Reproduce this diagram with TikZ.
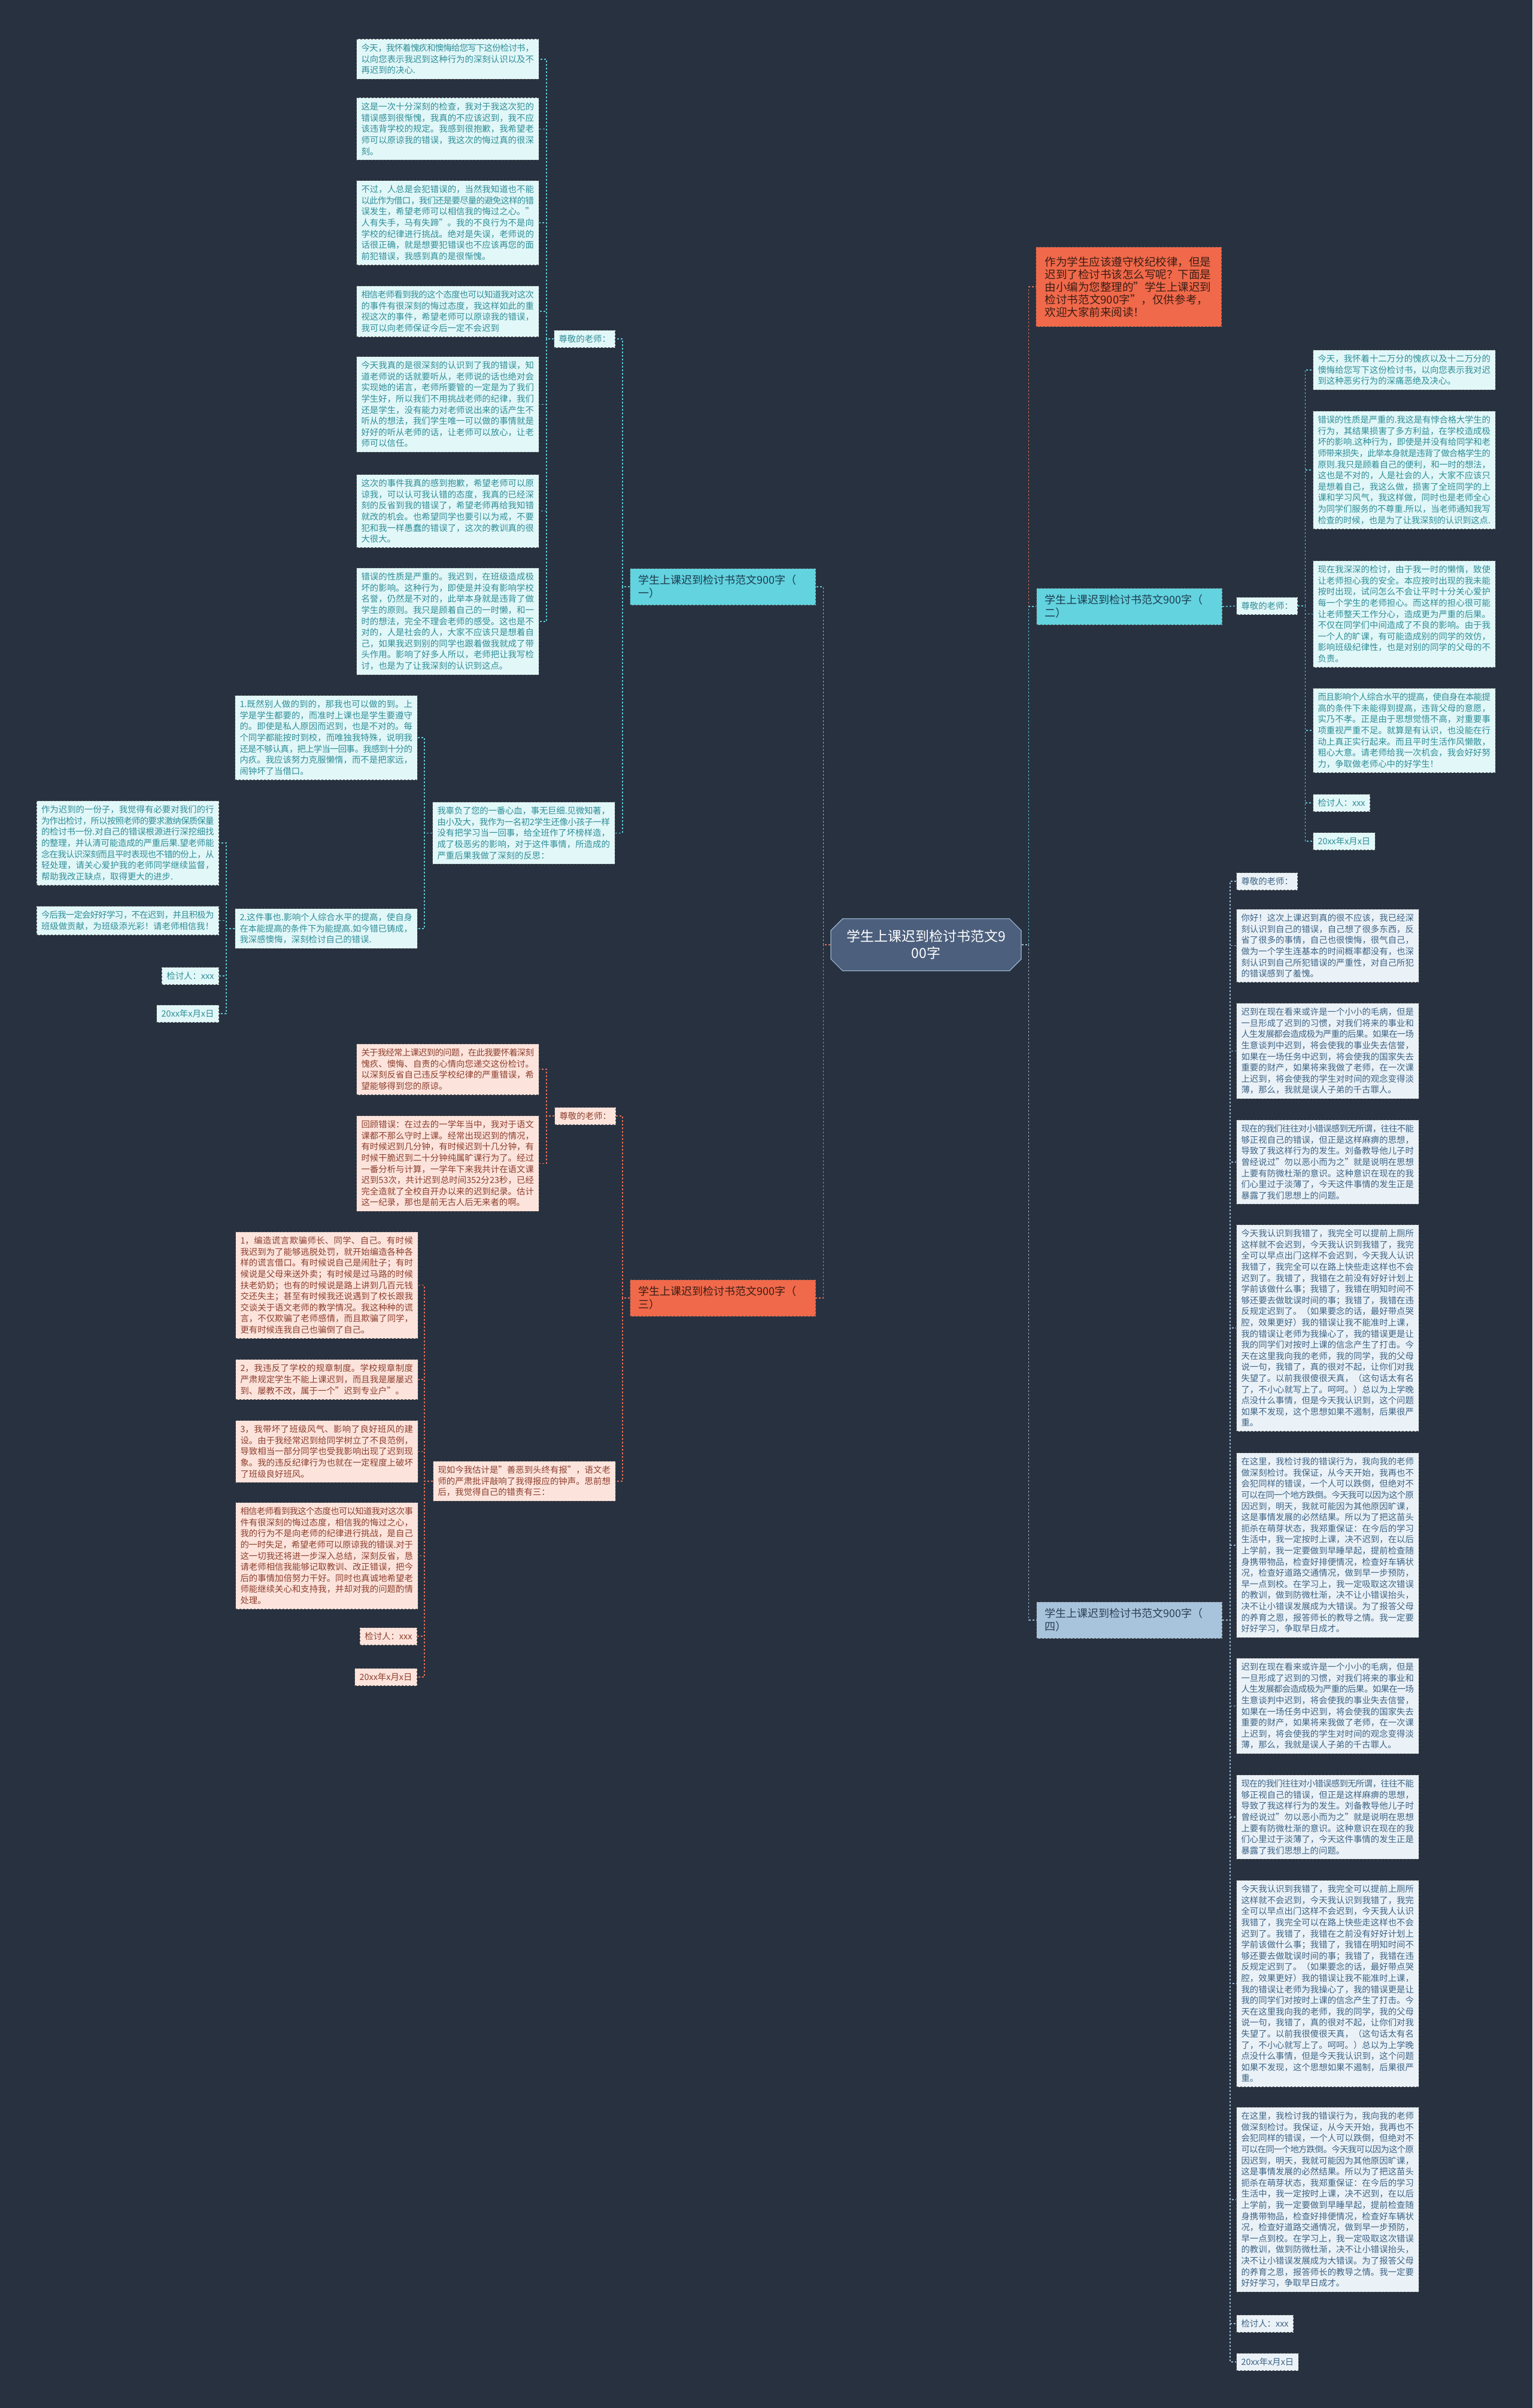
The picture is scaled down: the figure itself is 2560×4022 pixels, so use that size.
\documentclass[tikz,border=0pt]{standalone}
\usepackage{fontspec}
\setmainfont{Noto Sans CJK SC}
\usepackage{xcolor}
\usepackage{tikz}
\usetikzlibrary{shapes.misc}
\XeTeXlinebreaklocale "zh"
\XeTeXlinebreakskip=0pt plus 0.6pt minus 0.8pt
\definecolor{bgDark}{HTML}{283140}
\definecolor{rootFill}{HTML}{4C5F7D}
\definecolor{cyanFill}{HTML}{62D3DF}
\definecolor{cyanText}{HTML}{1D3B4F}
\definecolor{orangeFill}{HTML}{F0694A}
\definecolor{orangeText}{HTML}{3B1D15}
\definecolor{steelFill}{HTML}{A8C4DC}
\definecolor{steelText}{HTML}{2B3F55}
\definecolor{leafCyanFill}{HTML}{E2F7F8}
\definecolor{leafCyanText}{HTML}{2E8E98}
\definecolor{leafPeachFill}{HTML}{FCE4DC}
\definecolor{leafPeachText}{HTML}{8E3E2E}
\definecolor{leafSteelFill}{HTML}{EBF2F7}
\definecolor{leafSteelText}{HTML}{3D6486}
\definecolor{edgeGray}{HTML}{555555}
\definecolor{linkCyanCol}{HTML}{5CC8D4}
\definecolor{linkOrangeCol}{HTML}{E46E55}
\definecolor{linkSteelCol}{HTML}{9DB8D0}
\newcommand{\leafFont}{\fontsize{14.4pt}{18.6pt}\selectfont}
\newcommand{\branchFont}{\fontsize{18pt}{22pt}\selectfont}
\newcommand{\introFont}{\fontsize{18.5pt}{21pt}\selectfont}
\newcommand{\rootFont}{\fontsize{23pt}{28pt}\selectfont}
\newcommand{\txtHabit}{迟到在现在看来或许是一个小小的毛病，但是一旦形成了迟到的习惯，对我们将来的事业和人生发展都会造成极为严重的后果。如果在一场生意谈判中迟到，将会使我的事业失去信誉，如果在一场任务中迟到，将会使我的国家失去重要的财产，如果将来我做了老师，在一次课上迟到，将会使我的学生对时间的观念变得淡薄，那么，我就是误人子弟的千古罪人。}
\newcommand{\txtNumb}{现在的我们往往对小错误感到无所谓，往往不能够正视自己的错误，但正是这样麻痹的思想，导致了我这样行为的发生。刘备教导他儿子时曾经说过"勿以恶小而为之"就是说明在思想上要有防微杜渐的意识。这种意识在现在的我们心里过于淡薄了，今天这件事情的发生正是暴露了我们思想上的问题。}
\newcommand{\txtWrong}{今天我认识到我错了，我完全可以提前上厕所这样就不会迟到，今天我认识到我错了，我完全可以早点出门这样不会迟到，今天我人认识我错了，我完全可以在路上快些走这样也不会迟到了。我错了，我错在之前没有好好计划上学前该做什么事；我错了，我错在明知时间不够还要去做耽误时间的事；我错了，我错在违反规定迟到了。（如果要念的话，最好带点哭腔，效果更好）我的错误让我不能准时上课，我的错误让老师为我操心了，我的错误更是让我的同学们对按时上课的信念产生了打击。今天在这里我向我的老师，我的同学，我的父母说一句，我错了，真的很对不起，让你们对我失望了。以前我很傻很天真，（这句话太有名了，不小心就写上了。呵呵。）总以为上学晚点没什么事情，但是今天我认识到，这个问题如果不发现，这个思想如果不遏制，后果很严重。}
\newcommand{\txtVow}{在这里，我检讨我的错误行为，我向我的老师做深刻检讨。我保证，从今天开始，我再也不会犯同样的错误，一个人可以跌倒，但绝对不可以在同一个地方跌倒。今天我可以因为这个原因迟到，明天，我就可能因为其他原因旷课，这是事情发展的必然结果。所以为了把这苗头扼杀在萌芽状态，我郑重保证：在今后的学习生活中，我一定按时上课，决不迟到，在以后上学前，我一定要做到早睡早起，提前检查随身携带物品，检查好排便情况，检查好车辆状况，检查好道路交通情况，做到早一步预防，早一点到校。在学习上，我一定吸取这次错误的教训，做到防微杜渐，决不让小错误抬头，决不让小错误发展成为大错误。为了报答父母的养育之恩，报答师长的教导之情。我一定要好好学习，争取早日成才。}
\tikzset{
  mapRoot/.style={shape=chamfered rectangle, chamfered rectangle xsep=16pt, fill=rootFill, draw=linkSteelCol, line width=1.2pt, text=white, font=\rootFont, align=center, minimum width=318pt, minimum height=87pt},
  branchBox/.style={anchor=north west, text width=282pt, inner xsep=14pt, inner ysep=11pt, align=left, font=\branchFont, draw=edgeGray, dashed, line width=1pt},
  branchCyan/.style={branchBox, fill=cyanFill, text=cyanText},
  branchOrange/.style={branchBox, fill=orangeFill, text=orangeText},
  branchSteel/.style={branchBox, fill=steelFill, text=steelText},
  introBox/.style={anchor=north west, text width=280pt, inner xsep=15pt, inner ysep=16pt, align=left, font=\introFont, fill=orangeFill, text=orangeText, draw=edgeGray, dashed, line width=1pt},
  leafBox/.style={anchor=north west, text width=288.5pt, inner xsep=8pt, inner ysep=8pt, align=justify, font=\leafFont, draw=edgeGray, dashed, line width=1pt},
  tagBox/.style={anchor=north west, inner sep=8pt, font=\leafFont, draw=edgeGray, dashed, line width=1pt},
  leafCyan/.style={leafBox, fill=leafCyanFill, text=leafCyanText},
  leafPeach/.style={leafBox, fill=leafPeachFill, text=leafPeachText},
  leafSteel/.style={leafBox, fill=leafSteelFill, text=leafSteelText},
  tagCyan/.style={tagBox, fill=leafCyanFill, text=leafCyanText},
  tagPeach/.style={tagBox, fill=leafPeachFill, text=leafPeachText},
  tagSteel/.style={tagBox, fill=leafSteelFill, text=leafSteelText},
  linkCyan/.style={draw=linkCyanCol, dashed, line width=1.5pt},
  linkOrange/.style={draw=linkOrangeCol, dashed, line width=1.5pt},
  linkSteel/.style={draw=linkSteelCol, dashed, line width=1.5pt}
}
\begin{document}
\begin{tikzpicture}[x=1pt,y=-1pt]
  \fill[bgDark] (0,0) rectangle (2560,4022);

  % centre and first level
  \node[mapRoot] (root) at (1547,1578) {学生上课迟到检讨书范文9\\00字};
  \node[introBox] (intro) at (1730,412) {作为学生应该遵守校纪校律，但是迟到了检讨书该怎么写呢？下面是由小编为您整理的"学生上课迟到检讨书范文900字"，仅供参考，欢迎大家前来阅读！};
  \node[branchCyan] (b1) at (1052,949) {学生上课迟到检讨书范文900字（\\一）};
  \node[branchCyan] (b2) at (1731,982) {学生上课迟到检讨书范文900字（\\二）};
  \node[branchOrange] (b3) at (1052,2137) {学生上课迟到检讨书范文900字（\\三）};
  \node[branchSteel] (b4) at (1731,2675) {学生上课迟到检讨书范文900字（\\四）};

  \draw[linkCyan] (root.west) -- ++(-12,0) |- (b1.east);
  \draw[linkOrange] (root.west) -- ++(-12,0) |- (b3.east);
  \draw[linkOrange] (root.east) -- ++(12,0) |- (intro.west);
  \draw[linkCyan] (root.east) -- ++(12,0) |- (b2.west);
  \draw[linkSteel] (root.east) -- ++(12,0) |- (b4.west);

  % branch one
  \node[tagCyan] (b1greet) at (925,551) {尊敬的老师：};
  \node[leafCyan] (b1l1) at (595,65) {今天，我怀着愧疚和懊悔给您写下这份检讨书，以向您表示我迟到这种行为的深刻认识以及不再迟到的决心.};
  \node[leafCyan] (b1l2) at (595,163) {这是一次十分深刻的检查，我对于我这次犯的错误感到很惭愧，我真的不应该迟到，我不应该违背学校的规定。我感到很抱歉，我希望老师可以原谅我的错误，我这次的悔过真的很深刻。};
  \node[leafCyan] (b1l3) at (595,301) {不过，人总是会犯错误的，当然我知道也不能以此作为借口，我们还是要尽量的避免这样的错误发生，希望老师可以相信我的悔过之心。"人有失手，马有失蹄"。我的不良行为不是向学校的纪律进行挑战。绝对是失误，老师说的话很正确，就是想要犯错误也不应该再您的面前犯错误，我感到真的是很惭愧。};
  \node[leafCyan] (b1l4) at (595,477) {相信老师看到我的这个态度也可以知道我对这次的事件有很深刻的悔过态度，我这样如此的重视这次的事件，希望老师可以原谅我的错误，我可以向老师保证今后一定不会迟到};
  \node[leafCyan] (b1l5) at (595,595) {今天我真的是很深刻的认识到了我的错误，知道老师说的话就要听从，老师说的话也绝对会实现她的诺言，老师所要管的一定是为了我们学生好，所以我们不用挑战老师的纪律，我们还是学生，没有能力对老师说出来的话产生不听从的想法，我们学生唯一可以做的事情就是好好的听从老师的话，让老师可以放心，让老师可以信任。};
  \node[leafCyan] (b1l6) at (595,792) {这次的事件我真的感到抱歉，希望老师可以原谅我，可以认可我认错的态度，我真的已经深刻的反省到我的错误了，希望老师再给我知错就改的机会。也希望同学也要引以为戒，不要犯和我一样愚蠢的错误了，这次的教训真的很大很大。};
  \node[leafCyan] (b1l7) at (595,948) {错误的性质是严重的。我迟到，在班级造成极坏的影响。这种行为，即使是并没有影响学校名誉，仍然是不对的，此举本身就是违背了做学生的原则。我只是顾着自己的一时懒，和一时的想法，完全不理会老师的感受。这也是不对的，人是社会的人，大家不应该只是想着自己，如果我迟到别的同学也跟着做我就成了带头作用。影响了好多人所以，老师把让我写检讨，也是为了让我深刻的认识到这点。};
  \node[leafCyan] (b1sub) at (722,1339) {我辜负了您的一番心血，事无巨细.见微知著，由小及大，我作为一名初2学生还像小孩子一样没有把学习当一回事，给全班作了坏榜样造，成了极恶劣的影响，对于这件事情，所造成的严重后果我做了深刻的反思：};
  \node[leafCyan] (b1s1) at (392,1161) {1.既然别人做的到的，那我也可以做的到。上学是学生都要的，而准时上课也是学生要遵守的。即使是私人原因而迟到，也是不对的。每个同学都能按时到校，而唯独我特殊，说明我还是不够认真，把上学当一回事。我感到十分的内疚。我应该努力克服懒惰，而不是把家远，闹钟坏了当借口。};
  \node[leafCyan] (b1s2) at (392,1517) {2.这件事也.影响个人综合水平的提高，使自身在本能提高的条件下为能提高.如今错已铸成，我深感懊悔，深刻检讨自己的错误.};
  \node[leafCyan, anchor=north east] (b1t1) at (366,1337) {作为迟到的一份子，我觉得有必要对我们的行为作出检讨，所以按照老师的要求激纳保质保量的检讨书一份.对自己的错误根源进行深挖细找的整理，并认清可能造成的严重后果.望老师能念在我认识深刻而且平时表现也不错的份上，从轻处理，请关心爱护我的老师同学继续监督，帮助我改正缺点，取得更大的进步.};
  \node[leafCyan, anchor=north east] (b1t2) at (366,1513) {今后我一定会好好学习，不在迟到，并且积极为班级做贡献，为班级添光彩！请老师相信我！};
  \node[tagCyan, anchor=north east] (b1sign) at (366,1615) {检讨人：xxx};
  \node[tagCyan, anchor=north east] (b1date) at (366,1678) {20xx年x月x日};

  \draw[linkCyan] (b1.west) -- ++(-12,0) |- (b1greet.east);
  \draw[linkCyan] (b1.west) -- ++(-12,0) |- (b1sub.east);
  \draw[linkCyan] (b1greet.west) -- ++(-12,0) |- (b1l1.east);
  \draw[linkCyan] (b1greet.west) -- ++(-12,0) |- (b1l2.east);
  \draw[linkCyan] (b1greet.west) -- ++(-12,0) |- (b1l3.east);
  \draw[linkCyan] (b1greet.west) -- ++(-12,0) |- (b1l4.east);
  \draw[linkCyan] (b1greet.west) -- ++(-12,0) |- (b1l5.east);
  \draw[linkCyan] (b1greet.west) -- ++(-12,0) |- (b1l6.east);
  \draw[linkCyan] (b1greet.west) -- ++(-12,0) |- (b1l7.east);
  \draw[linkCyan] (b1sub.west) -- ++(-13,0) |- (b1s1.east);
  \draw[linkCyan] (b1sub.west) -- ++(-13,0) |- (b1s2.east);
  \draw[linkCyan] (b1s2.west) -- ++(-14,0) |- (b1t1.east);
  \draw[linkCyan] (b1s2.west) -- ++(-14,0) |- (b1t2.east);
  \draw[linkCyan] (b1s2.west) -- ++(-14,0) |- (b1sign.east);
  \draw[linkCyan] (b1s2.west) -- ++(-14,0) |- (b1date.east);

  % branch two
  \node[tagCyan] (b2greet) at (2065,997) {尊敬的老师：};
  \node[leafCyan] (b2l1) at (2193,584) {今天，我怀着十二万分的愧疚以及十二万分的懊悔给您写下这份检讨书，以向您表示我对迟到这种恶劣行为的深痛恶绝及决心。};
  \node[leafCyan] (b2l2) at (2193,686) {错误的性质是严重的.我这是有悖合格大学生的行为，其结果损害了多方利益，在学校造成极坏的影响.这种行为，即使是并没有给同学和老师带来损失，此举本身就是违背了做合格学生的原则.我只是顾着自己的便利，和一时的想法，这也是不对的，人是社会的人，大家不应该只是想着自己，我这么做，损害了全班同学的上课和学习风气，我这样做，同时也是老师全心为同学们服务的不尊重.所以，当老师通知我写检查的时候，也是为了让我深刻的认识到这点.};
  \node[leafCyan] (b2l3) at (2193,936) {现在我深深的检讨，由于我一时的懒惰，致使让老师担心我的安全。本应按时出现的我未能按时出现，试问怎么不会让平时十分关心爱护每一个学生的老师担心。而这样的担心很可能让老师整天工作分心，造成更为严重的后果。不仅在同学们中间造成了不良的影响。由于我一个人的旷课，有可能造成别的同学的效仿，影响班级纪律性，也是对别的同学的父母的不负责。};
  \node[leafCyan] (b2l4) at (2193,1149) {而且影响个人综合水平的提高，使自身在本能提高的条件下未能得到提高，违背父母的意愿，实乃不孝。正是由于思想觉悟不高，对重要事项重视严重不足。就算是有认识，也没能在行动上真正实行起来。而且平时生活作风懒散，粗心大意。请老师给我一次机会，我会好好努力，争取做老师心中的好学生！};
  \node[tagCyan] (b2sign) at (2193,1326) {检讨人：xxx};
  \node[tagCyan] (b2date) at (2193,1390) {20xx年x月x日};

  \draw[linkCyan] (b2.east) -- (b2greet.west);
  \draw[linkCyan] (b2greet.east) -- ++(12,0) |- (b2l1.west);
  \draw[linkCyan] (b2greet.east) -- ++(12,0) |- (b2l2.west);
  \draw[linkCyan] (b2greet.east) -- ++(12,0) |- (b2l3.west);
  \draw[linkCyan] (b2greet.east) -- ++(12,0) |- (b2l4.west);
  \draw[linkCyan] (b2greet.east) -- ++(12,0) |- (b2sign.west);
  \draw[linkCyan] (b2greet.east) -- ++(12,0) |- (b2date.west);

  % branch three
  \node[tagPeach] (b3greet) at (926,1849) {尊敬的老师：};
  \node[leafPeach] (b3l1) at (595,1743) {关于我经常上课迟到的问题，在此我要怀着深刻愧疚、懊悔、自责的心情向您递交这份检讨。以深刻反省自己违反学校纪律的严重错误，希望能够得到您的原谅。};
  \node[leafPeach] (b3l2) at (595,1863) {回顾错误：在过去的一学年当中，我对于语文课都不那么守时上课。经常出现迟到的情况，有时候迟到几分钟，有时候迟到十几分钟，有时候干脆迟到二十分钟纯属旷课行为了。经过一番分析与计算，一学年下来我共计在语文课迟到53次，共计迟到总时间352分23秒，已经完全造就了全校自开办以来的迟到纪录。估计这一纪录，那也是前无古人后无来者的啊。};
  \node[leafPeach] (b3sub) at (723,2440) {现如今我估计是"善恶到头终有报"，语文老师的严肃批评敲响了我得报应的钟声。思前想后，我觉得自己的错责有三：};
  \node[leafPeach] (b3s1) at (393,2057) {1，编造谎言欺骗师长、同学、自己。有时候我迟到为了能够逃脱处罚，就开始编造各种各样的谎言借口。有时候说自己是闹肚子；有时候说是父母来送外卖；有时候是过马路的时候扶老奶奶；也有的时候说是路上讲到几百元钱交还失主；甚至有时候我还说遇到了校长跟我交谈关于语文老师的教学情况。我这种种的谎言，不仅欺骗了老师感情，而且欺骗了同学，更有时候连我自己也骗倒了自己。};
  \node[leafPeach] (b3s2) at (393,2270) {2，我违反了学校的规章制度。学校规章制度严肃规定学生不能上课迟到，而且我是屡屡迟到、屡教不改，属于一个"迟到专业户"。};
  \node[leafPeach] (b3s3) at (393,2372) {3，我带坏了班级风气、影响了良好班风的建设。由于我经常迟到给同学树立了不良范例，导致相当一部分同学也受我影响出现了迟到现象。我的违反纪律行为也就在一定程度上破坏了班级良好班风。};
  \node[leafPeach] (b3s4) at (393,2509) {相信老师看到我这个态度也可以知道我对这次事件有很深刻的悔过态度，相信我的悔过之心，我的行为不是向老师的纪律进行挑战，是自己的一时失足，希望老师可以原谅我的错误.对于这一切我还将进一步深入总结，深刻反省，恳请老师相信我能够记取教训、改正错误，把今后的事情加倍努力干好。同时也真诚地希望老师能继续关心和支持我，并却对我的问题酌情处理。};
  \node[tagPeach, anchor=north east] (b3sign) at (697,2718) {检讨人：xxx};
  \node[tagPeach, anchor=north east] (b3date) at (697,2786) {20xx年x月x日};

  \draw[linkOrange] (b3.west) -- ++(-12,0) |- (b3greet.east);
  \draw[linkOrange] (b3.west) -- ++(-12,0) |- (b3sub.east);
  \draw[linkOrange] (b3greet.west) -- ++(-13,0) |- (b3l1.east);
  \draw[linkOrange] (b3greet.west) -- ++(-13,0) |- (b3l2.east);
  \draw[linkOrange] (b3sub.west) -- ++(-14,0) |- (b3s1.east);
  \draw[linkOrange] (b3sub.west) -- ++(-14,0) |- (b3s2.east);
  \draw[linkOrange] (b3sub.west) -- ++(-14,0) |- (b3s3.east);
  \draw[linkOrange] (b3sub.west) -- ++(-14,0) |- (b3s4.east);
  \draw[linkOrange] (b3sub.west) -- ++(-14,0) |- (b3sign.east);
  \draw[linkOrange] (b3sub.west) -- ++(-14,0) |- (b3date.east);

  % branch four
  \node[tagSteel] (b4greet) at (2065,1457) {尊敬的老师：};
  \node[leafSteel] (b4l1) at (2065,1518) {你好！这次上课迟到真的很不应该，我已经深刻认识到自己的错误，自己想了很多东西，反省了很多的事情，自己也很懊悔，很气自己，做为一个学生连基本的时间概率都没有，也深刻认识到自己所犯错误的严重性，对自己所犯的错误感到了羞愧。};
  \node[leafSteel] (b4l2) at (2065,1675) {\txtHabit};
  \node[leafSteel] (b4l3) at (2065,1870) {\txtNumb};
  \node[leafSteel] (b4l4) at (2065,2045) {\txtWrong};
  \node[leafSteel] (b4l5) at (2065,2426) {\txtVow};
  \node[leafSteel] (b4l6) at (2065,2769) {\txtHabit};
  \node[leafSteel] (b4l7) at (2065,2964) {\txtNumb};
  \node[leafSteel] (b4l8) at (2065,3140) {\txtWrong};
  \node[leafSteel] (b4l9) at (2065,3519) {\txtVow};
  \node[tagSteel] (b4sign) at (2065,3866) {检讨人：xxx};
  \node[tagSteel] (b4date) at (2065,3930) {20xx年x月x日};

  \draw[linkSteel] (b4.east) -- ++(13,0) |- (b4greet.west);
  \draw[linkSteel] (b4.east) -- ++(13,0) |- (b4l1.west);
  \draw[linkSteel] (b4.east) -- ++(13,0) |- (b4l2.west);
  \draw[linkSteel] (b4.east) -- ++(13,0) |- (b4l3.west);
  \draw[linkSteel] (b4.east) -- ++(13,0) |- (b4l4.west);
  \draw[linkSteel] (b4.east) -- ++(13,0) |- (b4l5.west);
  \draw[linkSteel] (b4.east) -- ++(13,0) |- (b4l6.west);
  \draw[linkSteel] (b4.east) -- ++(13,0) |- (b4l7.west);
  \draw[linkSteel] (b4.east) -- ++(13,0) |- (b4l8.west);
  \draw[linkSteel] (b4.east) -- ++(13,0) |- (b4l9.west);
  \draw[linkSteel] (b4.east) -- ++(13,0) |- (b4sign.west);
  \draw[linkSteel] (b4.east) -- ++(13,0) |- (b4date.west);
\end{tikzpicture}
\end{document}
